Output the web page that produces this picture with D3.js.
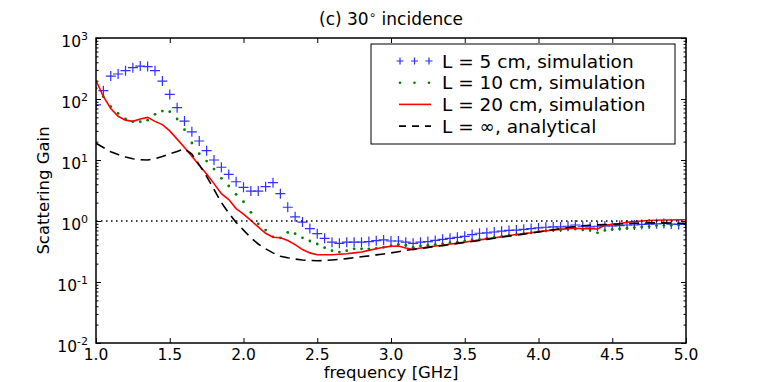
<!DOCTYPE html>
<html>
<head>
<meta charset="utf-8">
<script src="https://cdn.jsdelivr.net/npm/d3@7"></script>
<style>
  body { margin: 0; background: #fff; }
  svg { display: block; font-family: "DejaVu Sans", sans-serif; }
</style>
</head>
<body>
<div id="chart"></div>
<script>
// frequency grid [GHz]
const freq = [1.00, 1.05, 1.10, 1.15, 1.20, 1.25, 1.30, 1.35, 1.40, 1.45,
  1.50, 1.55, 1.60, 1.65, 1.70, 1.75, 1.80, 1.85, 1.90, 1.95,
  2.00, 2.05, 2.10, 2.15, 2.20, 2.25, 2.30, 2.35, 2.40, 2.45,
  2.50, 2.55, 2.60, 2.65, 2.70, 2.75, 2.80, 2.85, 2.90, 2.95,
  3.00, 3.05, 3.10, 3.15, 3.20, 3.25, 3.30, 3.35, 3.40, 3.45,
  3.50, 3.55, 3.60, 3.65, 3.70, 3.75, 3.80, 3.85, 3.90, 3.95,
  4.00, 4.05, 4.10, 4.15, 4.20, 4.25, 4.30, 4.35, 4.40, 4.45,
  4.50, 4.55, 4.60, 4.65, 4.70, 4.75, 4.80, 4.85, 4.90, 4.95, 5.00]

// L = 5 cm, simulation
const gain5 = [80, 137, 238, 257, 291, 326, 347, 340, 291, 197,
  119, 72, 43.5, 29, 20.5, 14.2, 10, 7.6, 5.8, 4.4,
  3.56, 3.1, 3.1, 3.65, 4.25, 2.8, 1.68, 1.17, 0.96, 0.75,
  0.62, 0.52, 0.45, 0.43, 0.45, 0.45, 0.45, 0.46, 0.475, 0.49,
  0.47, 0.47, 0.45, 0.43, 0.45, 0.46, 0.48, 0.5, 0.52, 0.54,
  0.56, 0.6, 0.63, 0.64, 0.66, 0.68, 0.7, 0.71, 0.73, 0.75,
  0.77, 0.79, 0.8, 0.8, 0.82, 0.86, 0.82, 0.8, 0.82, 0.83,
  0.83, 0.84, 0.86, 0.86, 0.88, 0.89, 0.9, 0.91, 0.89, 0.88, 0.88]

// L = 10 cm, simulation
const gain10 = [150, 109, 75, 58, 47, 42.5, 42.5, 45, 56, 63.5,
  62, 47, 31.4, 19, 12.7, 9.6, 7.1, 5.0, 3.75, 2.74,
  2.07, 1.39, 0.9, 0.71, 0.55, 0.53, 0.65, 0.62, 0.53, 0.47,
  0.42, 0.365, 0.326, 0.31, 0.326, 0.35, 0.35, 0.35, 0.356, 0.37,
  0.39, 0.415, 0.4, 0.37, 0.39, 0.4, 0.41, 0.42, 0.44, 0.45,
  0.47, 0.49, 0.5, 0.52, 0.54, 0.56, 0.58, 0.6, 0.62, 0.64,
  0.67, 0.69, 0.71, 0.72, 0.74, 0.74, 0.72, 0.71, 0.64, 0.7,
  0.73, 0.74, 0.76, 0.78, 0.8, 0.81, 0.84, 0.85, 0.85, 0.86, 0.86]

// L = 20 cm, simulation
const gain20 = [200, 110, 70, 52, 45, 43, 47, 50, 43, 38,
  30, 22, 16, 11.5, 8.2, 5.9, 4.1, 2.8, 2.25, 1.6,
  1.3, 1.02, 0.8, 0.63, 0.54, 0.53, 0.48, 0.41, 0.34, 0.3,
  0.28, 0.28, 0.28, 0.285, 0.29, 0.3, 0.31, 0.33, 0.35, 0.37,
  0.385, 0.39, 0.36, 0.34, 0.36, 0.37, 0.39, 0.4, 0.42, 0.43,
  0.45, 0.47, 0.49, 0.51, 0.53, 0.55, 0.58, 0.6, 0.62, 0.64,
  0.67, 0.69, 0.71, 0.73, 0.75, 0.76, 0.75, 0.75, 0.74, 0.85,
  0.88, 0.91, 0.95, 0.98, 1.0, 1.02, 1.03, 1.04, 1.04, 1.05, 1.05]

// L = infinity, analytical
const gainInf = [18.8, 16, 13.7, 12.3, 11.2, 10.5, 10.1, 10.0, 10.5, 11.4,
  12.6, 13.8, 15.2, 12.5, 8.3, 5.4, 3.3, 2.0, 1.35, 0.95,
  0.71, 0.53, 0.42, 0.35, 0.3, 0.265, 0.25, 0.238, 0.23, 0.225,
  0.223, 0.225, 0.23, 0.235, 0.242, 0.25, 0.26, 0.268, 0.278, 0.288,
  0.3, 0.314, 0.33, 0.345, 0.355, 0.37, 0.385, 0.395, 0.41, 0.43,
  0.445, 0.46, 0.48, 0.5, 0.52, 0.545, 0.565, 0.585, 0.61, 0.635,
  0.66, 0.69, 0.72, 0.75, 0.78, 0.81, 0.835, 0.85, 0.865, 0.875,
  0.885, 0.895, 0.905, 0.915, 0.925, 0.93, 0.93, 0.93, 0.925, 0.92, 0.92]

const xTicks = [1.0, 1.5, 2.0, 2.5, 3.0, 3.5, 4.0, 4.5, 5.0]
const yExponents = [3, 2, 1, 0, -1, -2]
const legendLabels = ['L = 5 cm, simulation', 'L = 10 cm, simulation', 'L = 20 cm, simulation', 'L = \u221e, analytical']

const W = 763, H = 382
const margin = { top: 38, left: 96, bottom: 39, right: 77 }
const colors = { blue: '#2f2fff', green: '#008000', red: '#ff0000', black: '#000' }

const svg = d3.select('#chart').append('svg')
  .attr('width', W).attr('height', H)

const x = d3.scaleLinear().domain([1, 5]).range([margin.left, W - margin.right])
const y = d3.scaleLog().domain([1e-2, 1e3]).range([H - margin.bottom, margin.top])

const pts = (vals) => freq.map((f, i) => [f, vals[i]])

svg.append('clipPath').attr('id', 'plotClip')
  .append('rect')
  .attr('x', x(1)).attr('y', y(1e3))
  .attr('width', x(5) - x(1)).attr('height', y(1e-2) - y(1e3))

const plot = svg.append('g').attr('clip-path', 'url(#plotClip)')

const plusPath = 'M-5,0H5M0,-5V5'

// blue pluses
plot.append('g').selectAll('path').data(pts(gain5)).join('path')
  .attr('d', plusPath)
  .attr('transform', d => `translate(${x(d[0])},${y(d[1])})`)
  .attr('stroke', colors.blue).attr('stroke-width', 1.2).attr('fill', 'none')

// green dots
plot.append('g').selectAll('circle').data(pts(gain10)).join('circle')
  .attr('cx', d => x(d[0])).attr('cy', d => y(d[1]))
  .attr('r', 1.4).attr('fill', colors.green)

const line = d3.line().x(d => x(d[0])).y(d => y(d[1]))

plot.append('path').datum(pts(gain20))
  .attr('d', line).attr('fill', 'none')
  .attr('stroke', colors.red).attr('stroke-width', 1.6)

plot.append('path').datum(pts(gainInf))
  .attr('d', line).attr('fill', 'none')
  .attr('stroke', colors.black).attr('stroke-width', 1.6)
  .attr('stroke-dasharray', '10,6')

// unity reference line
plot.append('line')
  .attr('x1', x(1)).attr('x2', x(5))
  .attr('y1', y(1)).attr('y2', y(1))
  .attr('stroke', '#000').attr('stroke-width', 1.5)
  .attr('stroke-dasharray', '1.5,3.5')

// axes (ticks point inward)
const majorY = yExponents.map(e => Math.pow(10, e))
const minorY = y.ticks().filter(v => !majorY.some(m => Math.abs(m - v) < m * 1e-6))

const axisStyle = (g) => {
  g.select('.domain').remove()
  g.selectAll('line').attr('stroke', '#000').attr('stroke-width', 1)
}

svg.append('g').attr('transform', `translate(0,${y(1e-2)})`)
  .call(d3.axisBottom(x).tickValues(xTicks).tickSize(-5).tickFormat(''))
  .call(axisStyle)
svg.append('g').attr('transform', `translate(0,${y(1e3)})`)
  .call(d3.axisTop(x).tickValues(xTicks).tickSize(-5).tickFormat(''))
  .call(axisStyle)
svg.append('g').attr('transform', `translate(${x(1)},0)`)
  .call(d3.axisLeft(y).tickValues(majorY).tickSize(-5).tickFormat(''))
  .call(axisStyle)
svg.append('g').attr('transform', `translate(${x(1)},0)`)
  .call(d3.axisLeft(y).tickValues(minorY).tickSize(-2.5).tickFormat(''))
  .call(axisStyle)
svg.append('g').attr('transform', `translate(${x(5)},0)`)
  .call(d3.axisRight(y).tickValues(majorY).tickSize(-5).tickFormat(''))
  .call(axisStyle)
svg.append('g').attr('transform', `translate(${x(5)},0)`)
  .call(d3.axisRight(y).tickValues(minorY).tickSize(-2.5).tickFormat(''))
  .call(axisStyle)

svg.append('rect')
  .attr('x', x(1)).attr('y', y(1e3))
  .attr('width', x(5) - x(1)).attr('height', y(1e-2) - y(1e3))
  .attr('fill', 'none').attr('stroke', '#000').attr('stroke-width', 1.5)

// tick labels
svg.append('g').selectAll('text').data(xTicks).join('text')
  .attr('x', d => x(d)).attr('y', y(1e-2) + 17)
  .attr('text-anchor', 'middle').attr('font-size', 15.5)
  .text(d => d.toFixed(1))

const yl = svg.append('g').selectAll('text').data(yExponents).join('text')
  .attr('x', x(1) - 8).attr('y', d => y(Math.pow(10, d)) + 8.5)
  .attr('text-anchor', 'end').attr('font-size', 15.5)
yl.append('tspan').text('10')
yl.append('tspan').attr('dy', -7).attr('font-size', 11).text(d => d)

// titles
const title = svg.append('text')
  .attr('x', (x(1) + x(5)) / 2).attr('y', 25)
  .attr('text-anchor', 'middle').attr('font-size', 17)
title.append('tspan').text('(c) 30')
title.append('tspan').attr('dy', -6).attr('font-size', 12).text('\u2218')
title.append('tspan').attr('dy', 6).text(' incidence')

svg.append('text')
  .attr('transform', `translate(49,${(y(1e3) + y(1e-2)) / 2}) rotate(-90)`)
  .attr('text-anchor', 'middle').attr('font-size', 16.5)
  .text('Scattering Gain')

svg.append('text')
  .attr('x', (x(1) + x(5)) / 2).attr('y', 378)
  .attr('text-anchor', 'middle').attr('font-size', 16.5)
  .text('frequency [GHz]')

// legend
const lg = svg.append('g')
lg.append('rect')
  .attr('x', 371).attr('y', 44).attr('width', 304).attr('height', 100)
  .attr('fill', '#fff').attr('stroke', '#000').attr('stroke-width', 1)

const rowY = (i) => 61 + i * 21.7
const swatchX = [400, 414.5, 429]

lg.append('g').selectAll('path').data(swatchX).join('path')
  .attr('d', 'M-3.5,0H3.5M0,-3.5V3.5')
  .attr('transform', d => `translate(${d},${rowY(0)})`)
  .attr('stroke', colors.blue).attr('stroke-width', 1.2)
lg.append('g').selectAll('circle').data(swatchX).join('circle')
  .attr('cx', d => d).attr('cy', rowY(1)).attr('r', 1.3).attr('fill', colors.green)
lg.append('line')
  .attr('x1', 399).attr('x2', 431).attr('y1', rowY(2)).attr('y2', rowY(2))
  .attr('stroke', colors.red).attr('stroke-width', 1.6)
lg.append('line')
  .attr('x1', 399).attr('x2', 431).attr('y1', rowY(3)).attr('y2', rowY(3))
  .attr('stroke', colors.black).attr('stroke-width', 1.6)
  .attr('stroke-dasharray', '7,6')

lg.append('g').selectAll('text').data(legendLabels).join('text')
  .attr('x', 442).attr('y', (d, i) => rowY(i) + 6.5)
  .attr('font-size', 18.5)
  .text(d => d)
</script>
</body>
</html>
